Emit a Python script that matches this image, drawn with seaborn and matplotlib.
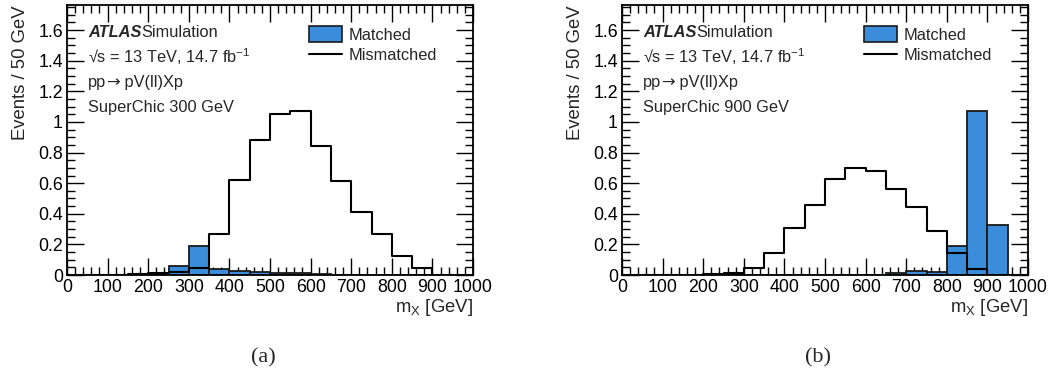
import numpy as np
import pandas as pd
import matplotlib
matplotlib.use("Agg")
import matplotlib.pyplot as plt
from matplotlib.patches import Patch
from matplotlib.lines import Line2D
from matplotlib.ticker import MultipleLocator, FuncFormatter
import seaborn as sns

# 50 GeV bins from 0 to 1000 GeV
bin_edges = np.arange(0, 1001, 50)

# SuperChic 300 GeV sample
matched_300 = [0, 0, 0, 0, 0.005, 0.062, 0.19, 0.037, 0.025, 0.02,
               0.015, 0.01, 0.004, 0, 0, 0, 0, 0, 0, 0]
mismatched_300 = [0, 0, 0.002, 0.004, 0.012, 0.02, 0.046, 0.266, 0.618, 0.884,
                  1.054, 1.071, 0.845, 0.616, 0.411, 0.268, 0.124, 0.046, 0.002, 0]

# SuperChic 900 GeV sample
matched_900 = [0, 0, 0, 0, 0, 0, 0, 0, 0, 0,
               0, 0, 0.003, 0.011, 0.026, 0.018, 0.19, 1.069, 0.329, 0]
mismatched_900 = [0, 0, 0, 0.002, 0.005, 0.012, 0.048, 0.144, 0.305, 0.459,
                  0.625, 0.699, 0.681, 0.562, 0.444, 0.29, 0.146, 0.041, 0.002, 0]

panels = [
    ("SuperChic 300 GeV", matched_300, mismatched_300, "(a)"),
    ("SuperChic 900 GeV", matched_900, mismatched_900, "(b)"),
]

sns.set_style("ticks")
plt.rcParams["font.family"] = ["Liberation Sans", "DejaVu Sans"]
plt.rcParams["mathtext.fontset"] = "custom"
plt.rcParams["mathtext.rm"] = "Liberation Sans"
plt.rcParams["mathtext.it"] = "Liberation Sans:italic"
plt.rcParams["mathtext.bf"] = "Liberation Sans:bold"

BLUE = "#3B8CDA"
FS = 11.8
AXFS = 13.3

fig = plt.figure(figsize=(10.55, 3.74), dpi=100)
lefts = [67 / 1055, 622 / 1055]
centers = 0.5 * (bin_edges[:-1] + bin_edges[1:])
n_bins = len(centers)
brange = (bin_edges[0], bin_edges[-1])


def text_run(ax, x, y, pieces):
    """Draw text pieces one after another on a single line."""
    for s, kw in pieces:
        t = ax.text(x, y, s, transform=ax.transAxes, fontsize=FS,
                    va="baseline", ha="left", **kw)
        fig.canvas.draw()
        bb = t.get_window_extent().transformed(ax.transAxes.inverted())
        x = bb.x1


for (label, matched, mismatched, tag), left in zip(panels, lefts):
    ax = fig.add_axes([left, 99 / 374, 406 / 1055, 270 / 374])
    df = pd.DataFrame({"mx": centers, "matched": matched,
                       "mismatched": mismatched})

    sns.histplot(data=df, x="mx", weights="matched", bins=n_bins,
                 binrange=brange, element="bars", color=BLUE,
                 edgecolor="#1a1a1a", linewidth=1.3, alpha=1, ax=ax, zorder=2)
    sns.histplot(data=df, x="mx", weights="mismatched", bins=n_bins,
                 binrange=brange, element="step", fill=False, color="black",
                 linewidth=1.5, ax=ax, zorder=3)

    ax.set_xlim(0, 1000)
    ax.set_ylim(0, 1.764)

    ax.xaxis.set_major_locator(MultipleLocator(100))
    ax.xaxis.set_minor_locator(MultipleLocator(20))
    ax.yaxis.set_major_locator(MultipleLocator(0.2))
    ax.yaxis.set_minor_locator(MultipleLocator(0.05))
    ax.yaxis.set_major_formatter(FuncFormatter(lambda v, p: f"{v:g}"))
    ax.xaxis.set_major_formatter(FuncFormatter(lambda v, p: f"{v:g}"))

    ax.tick_params(which="both", direction="in", top=True, right=True,
                   labelsize=12.8, width=1.0, colors="black")
    ax.tick_params(which="major", length=12, pad=3)
    ax.tick_params(which="minor", length=6)
    for sp in ax.spines.values():
        sp.set_linewidth(1.3)
        sp.set_color("black")

    ax.set_xlabel(r"m$_{\mathrm{X}}$ [GeV]", fontsize=AXFS, ha="right")
    ax.xaxis.set_label_coords(1.0, -0.08)
    ax.set_ylabel("Events / 50 GeV", fontsize=AXFS, ha="right")
    ax.yaxis.set_label_coords(-0.093, 1.0)

    # experiment label and sample description
    base = -0.021
    text_run(ax, 0.052, 0.904 + base,
             [("ATLAS", dict(fontweight="bold", fontstyle="italic")),
              ("Simulation", {})])
    ax.text(0.052, 0.808 + base, "√s = 13 TeV, 14.7 fb$^{-1}$",
            transform=ax.transAxes, fontsize=FS, va="baseline", ha="left")
    text_run(ax, 0.052, 0.716 + base,
             [("pp", {}), ("→", dict(family=["DejaVu Sans"])),
              (" pV(ll)Xp", {})])
    ax.text(0.052, 0.624 + base, label, transform=ax.transAxes,
            fontsize=FS, va="baseline", ha="left")

    handles = [Patch(facecolor=BLUE, edgecolor="#1a1a1a", linewidth=1.2),
               Line2D([], [], color="black", linewidth=1.5)]
    ax.legend(handles, ["Matched", "Mismatched"], loc="upper left",
              bbox_to_anchor=(0.58, 0.945), frameon=False, fontsize=FS,
              handlelength=2.0, handleheight=1.05, handletextpad=0.4,
              labelspacing=0.28, borderaxespad=0)

    fig.text(left + 0.5 * 406 / 1055 - 7 / 1055, 0.043, tag,
             family=["Liberation Serif", "DejaVu Serif"], fontsize=16,
             ha="center", va="center")

fig.savefig("out.png", dpi=100)
